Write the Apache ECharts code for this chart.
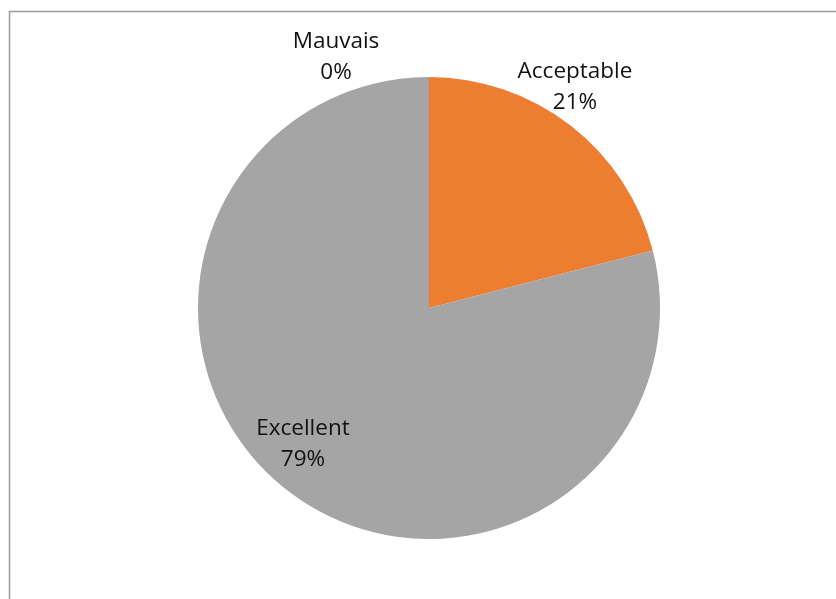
<!DOCTYPE html>
<html>
<head>
<meta charset="utf-8">
<script src="https://cdn.jsdelivr.net/npm/echarts@6/dist/echarts.min.js"></script>
<style>
  html, body { margin: 0; padding: 0; background: #fff; }
  #chart { width: 836px; height: 599px; }
</style>
</head>
<body>
<div id="chart"></div>
<script>
// Rating categories and their share (%)
const categories = ['Mauvais', 'Acceptable', 'Excellent'];
const shares = [0, 21, 79];
const colors = ['#4472C4', '#ED7D31', '#A5A5A5'];

// Where each category label sits (label centre)
const labelSpots = [
  { x: 336, y: 57 },
  { x: 575, y: 87 },
  { x: 303, y: 444 }
];

const chart = echarts.init(document.getElementById('chart'), null, { renderer: 'canvas' });

chart.setOption({
  animation: false,
  backgroundColor: '#fff',
  graphic: [{
    type: 'rect',
    shape: { x: 9.5, y: 11.5, width: 900, height: 700 },
    style: { fill: 'none', stroke: '#9a9a9a', lineWidth: 1.5 },
    silent: true
  }],
  series: [{
    type: 'pie',
    center: [429, 308],
    radius: [0, 231],
    startAngle: 90,
    clockwise: true,
    percentPrecision: 0,
    avoidLabelOverlap: false,
    itemStyle: { borderWidth: 0 },
    label: {
      show: true,
      position: 'outside',
      formatter: '{b}\n{d}%',
      fontFamily: 'Open Sans',
      fontSize: 22.5,
      lineHeight: 31,
      color: '#111',
      align: 'center',
      verticalAlign: 'middle'
    },
    labelLine: { show: false },
    labelLayout: function (p) {
      const s = labelSpots[p.dataIndex];
      return { x: s.x, y: s.y, align: 'center', verticalAlign: 'middle' };
    },
    data: categories.map((c, i) => ({
      name: c,
      value: shares[i],
      itemStyle: { color: colors[i] }
    }))
  }]
});
</script>
</body>
</html>
